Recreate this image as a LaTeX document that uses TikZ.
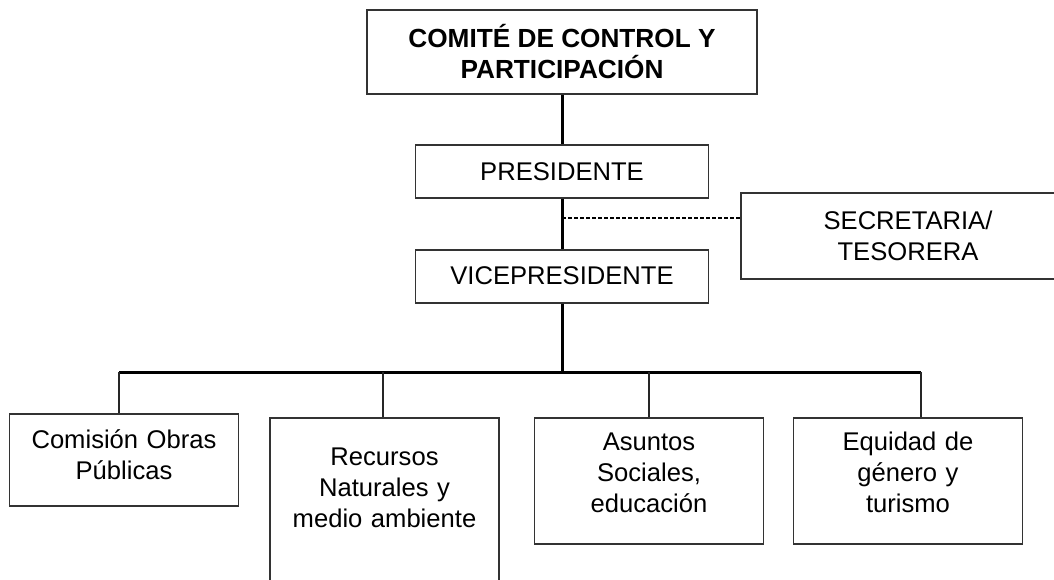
\documentclass[tikz,border=0pt]{standalone}
\usepackage{fontspec}
\setmainfont{Liberation Sans}
\usetikzlibrary{positioning}

\tikzset{
	caja/.style={draw=black!80, line width=0.9pt, inner sep=0pt, align=center, font=\fontsize{12.8}{15.5}\selectfont},
	cargo/.style={caja, minimum width=146.5pt, minimum height=26.5pt},
	comision/.style={caja, anchor=north, text width=114.5pt, inner ysep=4pt},
	linea/.style={line width=1.5pt},
	rama/.style={line width=0.8pt, black!85},
	punteado/.style={line width=0.6pt, dash pattern=on 2pt off 1pt},
}

\begin{document}
\begin{tikzpicture}[x=0.5pt, y=-0.5pt]
			\clip (0,0) rectangle (1054,579);
			\node[caja, font=\bfseries\fontsize{13.1}{15.5}\selectfont, minimum width=195pt, minimum height=42pt] (comite) at (562,52) {COMITÉ DE CONTROL Y\\PARTICIPACIÓN};
			\node[cargo, below=24.5pt of comite] (presidente) {PRESIDENTE};
			\node[cargo, below=25pt of presidente] (vice) {VICEPRESIDENTE};
			\node[caja, minimum width=167pt, minimum height=43pt] (secretaria) at (908,236) {SECRETARIA/\\TESORERA};
			%
			\node[comision, text height=13.5pt, text depth=24.5pt] (obras) at (124,413) {Comisión Obras\\Públicas};
			\node[comision, text height=20pt, text depth=68.5pt] (recursos) at (384.5,417) {Recursos\\Naturales y\\medio ambiente};
			\node[comision, text height=12.5pt, text depth=42.5pt] (asuntos) at (649,417) {Asuntos\\Sociales,\\educación};
			\node[comision, text height=12.5pt, text depth=42.5pt] (equidad) at (908,417) {Equidad de\\género y\\turismo};
			%
			\coordinate (enlace) at (562,218);
			\coordinate (bus) at (562,372);
			\coordinate (b1) at (119,372);
			\coordinate (b2) at (383,372);
			\coordinate (b3) at (649,372);
			\coordinate (b4) at (921,372);
			%
			\draw[linea] (comite) -- (presidente);
			\draw[linea] (presidente) -- (vice);
			\draw[punteado] (enlace) -- (enlace -| secretaria.west);
			\draw[linea] (vice) -- (bus);
			\draw[linea] (b1) -- (b4);
			\foreach \b/\n in {b1/obras, b2/recursos, b3/asuntos, b4/equidad}
				\draw[rama] (\b) -- (\b |- \n.north);
\end{tikzpicture}
\end{document}
